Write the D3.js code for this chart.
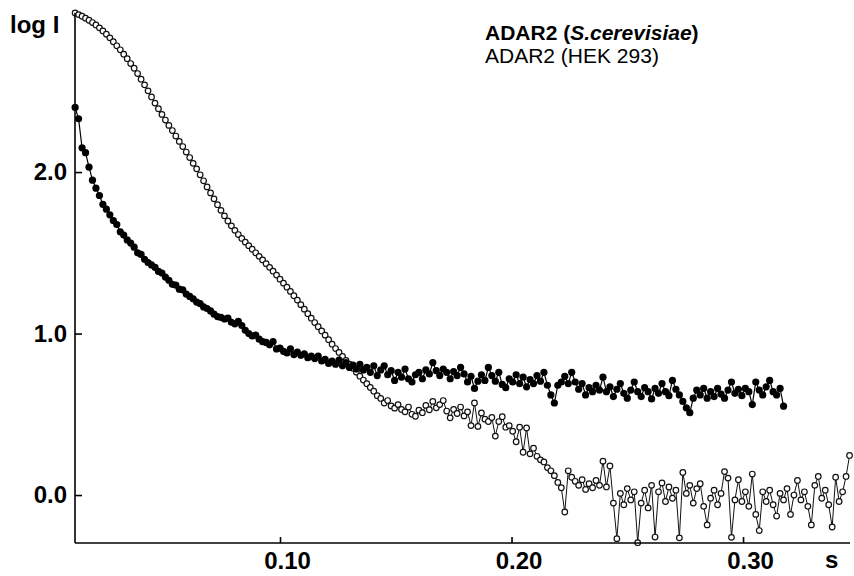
<!DOCTYPE html>
<html><head><meta charset="utf-8">
<script src="https://cdn.jsdelivr.net/npm/d3@7"></script>
<style>html,body{margin:0;padding:0;background:#fff}svg{display:block}text{font-family:"Liberation Sans",Arial,sans-serif;fill:#000}</style>
</head><body><div id="chart"></div>
<script>
// s grid (scattering vector) for both curves
const sStart = 0.0115, sStep = 0.0015;
// ADAR2 (S.cerevisiae) — filled symbols, log I
const yeastLogI = [
2.400,2.330,2.150,2.120,2.030,1.950,1.900,1.855,1.800,1.770,1.735,1.700,1.675,1.630,1.610,1.580,1.560,1.535,1.500,1.490,
1.460,1.440,1.425,1.410,1.385,1.375,1.350,1.330,1.305,1.300,1.275,1.270,1.245,1.230,1.215,1.195,1.185,1.165,1.155,1.140,
1.120,1.105,1.100,1.090,1.095,1.070,1.060,1.075,1.050,1.020,1.000,0.985,0.990,0.965,0.950,0.945,0.930,0.950,0.905,0.910,
0.890,0.880,0.905,0.870,0.885,0.865,0.875,0.850,0.860,0.845,0.860,0.830,0.840,0.815,0.830,0.810,0.835,0.800,0.820,0.790,
0.805,0.780,0.810,0.775,0.790,0.760,0.800,0.740,0.775,0.800,0.745,0.770,0.710,0.760,0.730,0.780,0.720,0.700,0.745,0.760,
0.720,0.775,0.750,0.820,0.770,0.740,0.780,0.760,0.720,0.765,0.740,0.790,0.750,0.700,0.735,0.660,0.705,0.745,0.710,0.790,
0.740,0.705,0.760,0.685,0.665,0.720,0.700,0.745,0.690,0.730,0.670,0.715,0.690,0.740,0.705,0.760,0.680,0.620,0.570,0.680,
0.700,0.735,0.690,0.760,0.700,0.655,0.690,0.620,0.665,0.640,0.680,0.650,0.730,0.640,0.670,0.610,0.655,0.690,0.630,0.600,
0.650,0.700,0.640,0.610,0.665,0.640,0.595,0.660,0.630,0.690,0.640,0.615,0.710,0.655,0.620,0.580,0.540,0.510,0.600,0.650,
0.620,0.660,0.600,0.640,0.610,0.660,0.625,0.600,0.650,0.700,0.630,0.655,0.615,0.660,0.640,0.560,0.700,0.650,0.620,0.670,
0.710,0.640,0.620,0.660,0.550];
// ADAR2 (HEK 293) — open symbols, log I
const hekLogI = [
2.985,2.975,2.965,2.953,2.940,2.926,2.911,2.893,2.874,2.854,2.831,2.807,2.782,2.757,2.730,2.702,2.672,2.643,2.610,2.575,
2.540,2.503,2.465,2.427,2.392,2.357,2.322,2.289,2.257,2.223,2.190,2.158,2.124,2.090,2.054,2.020,1.983,1.946,1.908,1.871,
1.834,1.798,1.763,1.729,1.697,1.667,1.639,1.613,1.589,1.566,1.544,1.522,1.500,1.478,1.456,1.433,1.410,1.386,1.362,1.337,
1.312,1.287,1.261,1.234,1.207,1.179,1.151,1.123,1.095,1.068,1.042,1.016,0.990,0.962,0.934,0.907,0.883,0.858,0.834,0.810,
0.785,0.761,0.736,0.712,0.689,0.666,0.643,0.615,0.598,0.570,0.585,0.552,0.538,0.560,0.530,0.515,0.545,0.500,0.488,0.525,
0.510,0.555,0.528,0.580,0.540,0.560,0.585,0.520,0.478,0.530,0.505,0.545,0.490,0.515,0.430,0.570,0.425,0.508,0.470,0.455,
0.480,0.365,0.455,0.485,0.420,0.430,0.395,0.330,0.420,0.265,0.415,0.255,0.290,0.240,0.218,0.205,0.170,0.150,0.120,0.078,
0.045,-0.105,0.150,0.110,0.085,0.060,0.095,0.035,0.070,0.045,0.090,0.060,0.210,0.050,0.180,-0.050,-0.270,0.010,-0.060,0.040,
-0.030,0.020,-0.295,-0.050,0.030,-0.080,0.060,-0.260,0.020,0.075,-0.040,0.050,-0.020,0.030,-0.265,0.140,0.010,0.060,-0.050,0.040,
0.070,-0.070,-0.185,-0.020,0.030,-0.060,0.010,0.145,0.105,-0.262,-0.030,0.095,-0.040,0.020,-0.070,0.130,-0.120,-0.220,0.020,-0.040,
0.030,-0.060,-0.130,0.010,-0.030,0.040,-0.120,0.000,0.090,-0.030,0.020,-0.070,-0.185,0.060,0.115,-0.020,0.030,-0.060,-0.198,0.110,
-0.040,0.020,0.115,0.245];
// axis ticks
const xTicks = [0.10, 0.20, 0.30];
const xTickLabels = ["0.10", "0.20", "0.30"];
const yTicks = [0.0, 1.0, 2.0];
const yTickLabels = ["0.0", "1.0", "2.0"];
const legendLines = ["ADAR2 (", "S.cerevisiae", ")", "ADAR2 (HEK 293)"];

const W = 854, H = 576;
const svg = d3.select("#chart").append("svg").attr("width", W).attr("height", H);
const x = d3.scaleLinear().domain([0.01145, 0.3462]).range([75, 850]);
const y = d3.scaleLinear().domain([-0.297, 2.985]).range([543, 13]);

const toPts = arr => arr.map((v, i) => ({s: sStart + i * sStep, v}));
const hek = toPts(hekLogI), yeast = toPts(yeastLogI);
const line = d3.line().x(d => x(d.s)).y(d => y(d.v));

// HEK 293 series (open circles joined by a thin line)
svg.append("path").datum(hek).attr("d", line).attr("fill", "none").attr("stroke", "#111").attr("stroke-width", 1);
svg.append("g").selectAll("circle").data(hek).join("circle")
  .attr("cx", d => x(d.s)).attr("cy", d => y(d.v)).attr("r", 2.8)
  .attr("fill", "#fff").attr("stroke", "#111").attr("stroke-width", 1.2);

// S.cerevisiae series (filled dots)
svg.append("path").datum(yeast).attr("d", line).attr("fill", "none").attr("stroke", "#000").attr("stroke-width", 1.2);
svg.append("g").selectAll("circle").data(yeast).join("circle")
  .attr("cx", d => x(d.s)).attr("cy", d => y(d.v)).attr("r", 3.6).attr("fill", "#000");

// axes
const xAxis = d3.axisBottom(x).tickValues(xTicks).tickSize(-6).tickPadding(9)
  .tickFormat((d, i) => xTickLabels[i]);
const gx = svg.append("g").attr("transform", "translate(0,543)").call(xAxis);
gx.select(".domain").attr("d", "M75,0H850").attr("stroke", "#000").attr("stroke-width", 1.6);
gx.selectAll(".tick line").attr("stroke", "#000").attr("stroke-width", 1.6);
gx.selectAll(".tick text").attr("font-size", 24).attr("font-weight", "bold").attr("dx", 7)
  .attr("font-family", "Liberation Sans, Arial, sans-serif").attr("fill", "#000");

const yAxis = d3.axisLeft(y).tickValues(yTicks).tickSize(-7).tickPadding(8)
  .tickFormat((d, i) => yTickLabels[i]);
const gy = svg.append("g").attr("transform", "translate(75,0)").call(yAxis);
gy.select(".domain").attr("d", "M0,13V543").attr("stroke", "#000").attr("stroke-width", 1.6);
gy.selectAll(".tick line").attr("stroke", "#000").attr("stroke-width", 1.6);
gy.selectAll(".tick text").attr("font-size", 24).attr("font-weight", "bold")
  .attr("font-family", "Liberation Sans, Arial, sans-serif").attr("fill", "#000");

// axis titles
svg.append("text").attr("x", 10).attr("y", 33).attr("font-size", 24).attr("font-weight", "bold").text("log I");
svg.append("text").attr("x", 825).attr("y", 568).attr("font-size", 24).attr("font-weight", "bold").text("s");

// legend text
const l1 = svg.append("text").attr("x", 485).attr("y", 40).attr("font-size", 21).attr("font-weight", "bold");
l1.append("tspan").text(legendLines[0]);
l1.append("tspan").attr("font-style", "italic").text(legendLines[1]);
l1.append("tspan").text(legendLines[2]);
svg.append("text").attr("x", 485).attr("y", 63).attr("font-size", 21).text(legendLines[3]);
</script></body></html>
